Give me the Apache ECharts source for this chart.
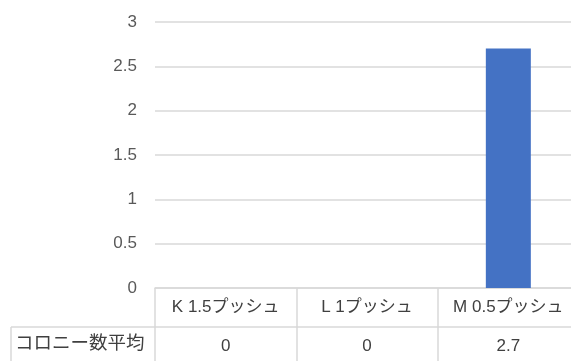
<!DOCTYPE html>
<html>
<head>
<meta charset="utf-8">
<script src="https://cdn.jsdelivr.net/npm/echarts@6/dist/echarts.min.js"></script>
<style>
  html, body { margin: 0; padding: 0; background: #fff; }
  #chart { width: 571px; height: 361px; }
</style>
</head>
<body>
<div id="chart"></div>
<script>
// Colony averages per condition, with a data table under the axis
const categories = ['K 1.5プッシュ', 'L 1プッシュ', 'M 0.5プッシュ'];
const colonyAvg = [0, 0, 2.7];
const seriesName = 'コロニー数平均';
const yTicks = { min: 0, max: 3, interval: 0.5 };

const FONT = '"Liberation Sans", "Noto Sans CJK JP", sans-serif';
const LINE = '#d9d9d9';

const chart = echarts.init(document.getElementById('chart'), null, { renderer: 'canvas' });

// plot area runs slightly past the right edge of the canvas
const grid = { left: 155, top: 22, right: -8, bottom: 73, containLabel: false, outerBoundsMode: 'none' };
const plotBottom = 361 - grid.bottom;
const rowH = 39;      // height of one table row
const rowLabelLeft = 11;

chart.setOption({
  animation: false,
  grid: grid,
  xAxis: [
    {
      type: 'category',
      data: categories,
      position: 'bottom',
      axisLine: { show: true, lineStyle: { color: LINE, width: 1.5 } },
      axisTick: { show: true, interval: 0, length: 80, lineStyle: { color: LINE, width: 1.5 } },
      axisLabel: { interval: 0, color: '#404040', fontSize: 17, fontFamily: FONT, margin: 11 }
    },
    {
      type: 'category',
      data: categories,
      position: 'bottom',
      offset: rowH,
      axisLine: { show: true, lineStyle: { color: LINE, width: 1.5 } },
      axisTick: { show: false },
      axisLabel: {
        interval: 0, color: '#404040', fontSize: 17, fontFamily: FONT, margin: 11,
        formatter: (v, i) => String(colonyAvg[i])
      }
    }
  ],
  yAxis: {
    type: 'value',
    min: yTicks.min, max: yTicks.max, interval: yTicks.interval,
    axisLine: { show: false },
    axisTick: { show: false },
    splitLine: { lineStyle: { color: LINE, width: 1.5 } },
    axisLabel: { color: '#595959', fontSize: 17, fontFamily: FONT, margin: 18 }
  },
  series: [{
    name: seriesName,
    type: 'bar',
    data: colonyAvg,
    barWidth: 45,
    itemStyle: { color: '#4472c4' }
  }],
  graphic: [
    // row header cell for the data table
    {
      type: 'line',
      shape: { x1: rowLabelLeft, y1: plotBottom + rowH, x2: grid.left, y2: plotBottom + rowH },
      style: { stroke: LINE, lineWidth: 1.5 }
    },
    {
      type: 'line',
      shape: { x1: rowLabelLeft, y1: plotBottom + rowH, x2: rowLabelLeft, y2: 400 },
      style: { stroke: LINE, lineWidth: 1.5 }
    },
    {
      type: 'text',
      left: rowLabelLeft + 4,
      top: plotBottom + rowH + 8,
      style: { text: seriesName, fill: '#404040', font: '18.5px ' + FONT }
    }
  ]
});
</script>
</body>
</html>
